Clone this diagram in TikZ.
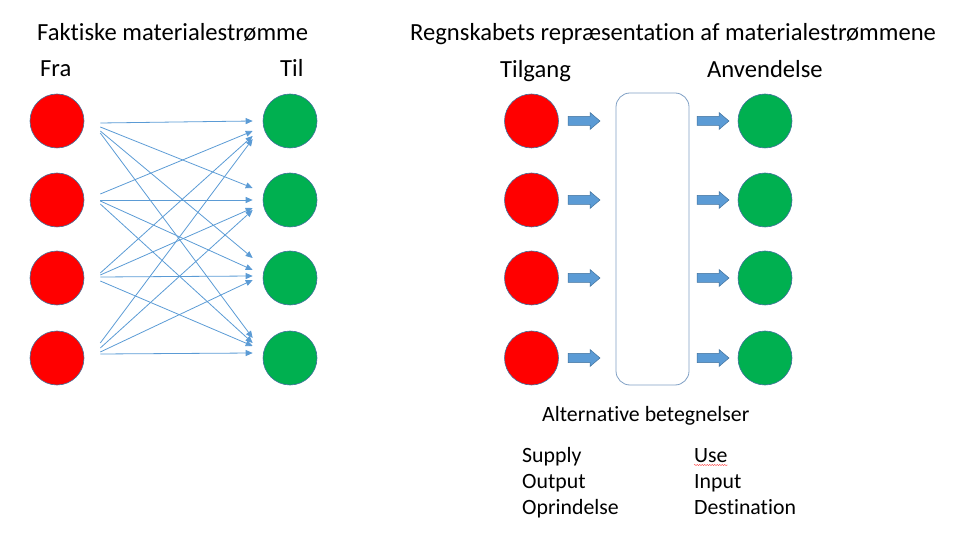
\documentclass[tikz,border=0pt]{standalone}
\usepackage{fontspec}
\setmainfont{Carlito}[Ligatures={NoCommon}]
\usetikzlibrary{arrows.meta,decorations.pathmorphing}
\definecolor{ofred}{HTML}{FF0000}
\definecolor{ofgreen}{HTML}{00B050}
\definecolor{ofedge}{HTML}{41719C}
\definecolor{ofblue}{HTML}{5B9BD5}
\definecolor{boxedge}{HTML}{7F9FC4}
\tikzset{
  redc/.style={circle,fill=ofred,draw=ofedge,line width=0.6pt,minimum size=54pt,inner sep=0pt},
  greenc/.style={circle,fill=ofgreen,draw=ofedge,line width=0.6pt,minimum size=54pt,inner sep=0pt},
  flow/.style={draw=ofblue,line width=0.8pt,-{Triangle[length=7pt,width=6pt]}},
  barrow/.pic={\draw[fill=ofblue,draw=ofedge,line width=0.5pt] (-16,-4.5) -- (6,-4.5) -- (6,-8.5) -- (16,0) -- (6,8.5) -- (6,4.5) -- (-16,4.5) -- cycle;},
  bigtxt/.style={font=\fontsize{24.6}{28}\selectfont,inner sep=0pt,anchor=base west},
  smalltxt/.style={font=\fontsize{21.8}{25}\selectfont,inner sep=0pt,anchor=base west},
}
\begin{document}
\begin{tikzpicture}[x=1pt,y=-1pt]
\useasboundingbox (0,0) rectangle (958,534);
% titles
\node[bigtxt] (title1) at (37,41) {Faktiske materialestrømme};
\node[bigtxt] (fra) at (40,77) {Fra};
\node[bigtxt] (til) at (280,77) {Til};
\node[bigtxt] (title2) at (410,41) {Regnskabets repræsentation af materialestrømmene};
\node[bigtxt] (tilgang) at (500,78) {Tilgang};
\node[bigtxt] (anv) at (707,78) {Anvendelse};
% left circles
\foreach \k/\yy in {1/121,2/200,3/278,4/358}{
  \node[redc] (s\k) at (57,\yy) {};
  \node[greenc] (t\k) at (290,\yy) {};
}
% crossing flows
\foreach \i/\j/\so/\eo in {
  1/1/2/0, 1/2/6/-12, 1/3/10/-20, 1/4/12/-20,
  2/1/-6/10, 2/2/0/0, 2/3/1/-8, 2/4/4/-15,
  3/1/-5/15, 3/2/-3/8, 3/3/-1/-2, 3/4/3/-12,
  4/1/-15/18, 4/2/-10/10, 4/3/-6/2, 4/4/-4/-5}{
  \draw[flow] ([shift={(16,\so)}]s\i.east) -- ([shift={(-10,\eo)}]t\j.west);
}
% right side
\node[draw=boxedge,line width=0.8pt,rounded corners=14pt,minimum width=73pt,minimum height=292pt,inner sep=0pt] (box) at (652.5,239) {};
\foreach \k/\yy in {1/121,2/200,3/278,4/358}{
  \node[redc] (r\k) at (531.5,\yy) {};
  \node[greenc] (g\k) at (765,\yy) {};
  \pic (a\k) at (584,\yy) {barrow};
  \pic (b\k) at (713,\yy) {barrow};
}
\node[smalltxt] (alt) at (542,421) {Alternative betegnelser};
\node[smalltxt] (sup) at (522,462) {Supply};
\node[smalltxt] (out) at (522,488) {Output};
\node[smalltxt] (opr) at (522,514) {Oprindelse};
\node[smalltxt] (use) at (694,462) {Use};
\node[smalltxt] (inp) at (694,488) {Input};
\node[smalltxt] (dest) at (694,514) {Destination};
\coordinate (uA) at ([yshift=-3pt]use.base west);
\coordinate (uB) at ([yshift=-3pt]use.base east);
\draw[red!75,line width=0.4pt,decorate,decoration={snake,amplitude=0.6pt,segment length=2.5pt}] (uA) -- (uB);
\end{tikzpicture}
\end{document}
